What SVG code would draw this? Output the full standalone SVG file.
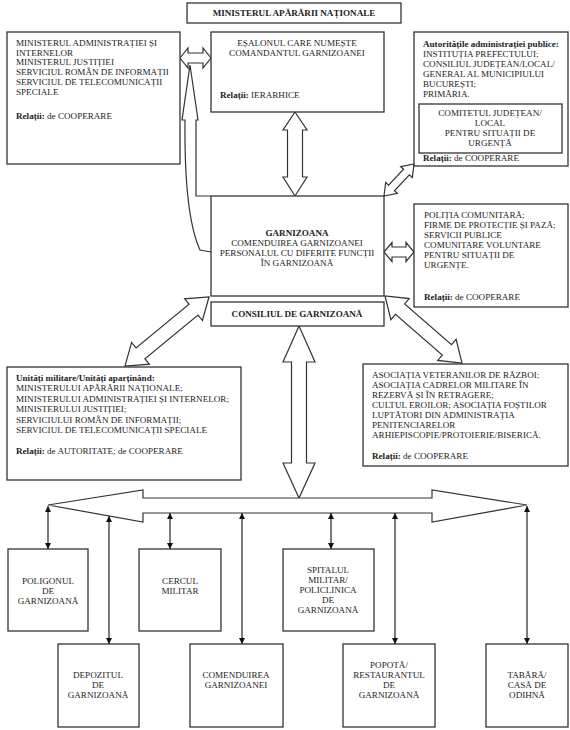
<svg xmlns="http://www.w3.org/2000/svg" width="570" height="730" viewBox="0 0 570 730">
<style>
.b{fill:#fff;stroke:#333;stroke-width:1.3}
.a{fill:#fff;stroke:#333;stroke-width:1.2;stroke-linejoin:miter}
.l{stroke:#222;stroke-width:1.2;fill:none}
text{font-family:"Liberation Serif","Times New Roman",serif;font-size:9.1px;fill:#222}
.c{text-anchor:middle}
.t{font-weight:bold}
</style>
<defs>
<marker id="ah" viewBox="0 0 10 10" refX="10" refY="5" markerWidth="6" markerHeight="8" markerUnits="userSpaceOnUse" orient="auto-start-reverse">
<path d="M0,0 L10,5 L0,10 z" fill="#111"/>
</marker>
</defs>
<rect width="570" height="730" fill="#fff"/>

<g id="connectors">
<polygon class="a" points="180,58 188,48 188,53 203,53 203,48 211,58 203,68 203,63 188,63 188,68"/>
<path class="a" d="M211,196 L196,196 L196,120 L198,120 L190,65 L182,120 L185,120 Q184,215 200,250 L211,252"/>
<polygon class="a" points="295,112 307,130 302.5,130 302.5,177 307,177 295,196 283,177 287.5,177 287.5,130 283,130"/>
<polygon class="a" points="384,252 392,242.5 392,247 406,247 406,242.5 414,252 406,261.5 406,257 392,257 392,261.5"/>
<polygon class="a" points="384,196 397.35,193.45 394.44,190.72 409.40,174.76 412.31,177.49 414,164 400.65,166.55 403.56,169.28 388.60,185.24 385.69,182.51"/>
<polygon class="a" points="209,297 202.43,320.52 197.99,315.11 144.91,358.71 149.35,364.12 125,366 131.57,342.48 136.01,347.89 189.09,304.29 184.65,298.88"/>
<polygon class="a" points="385,296 390.90,319.68 395.49,314.40 442.33,355.16 437.74,360.44 462,363 456.10,339.32 451.51,344.60 404.67,303.84 409.26,298.56"/>
<polygon class="a" points="299,326 315,362 306.5,362 306.5,463 315,463 299,498 283,463 291.5,463 291.5,362 283,362"/>
<polygon class="a" points="48,505 143,490 143,498 432,498 432,490 527,505 432,522 432,513 143,513 143,522"/>
<line class="l" x1="48" y1="506" x2="48" y2="549" marker-start="url(#ah)" marker-end="url(#ah)"/>
<line class="l" x1="109" y1="516" x2="109" y2="644" marker-start="url(#ah)" marker-end="url(#ah)"/>
<line class="l" x1="170" y1="513" x2="170" y2="549" marker-start="url(#ah)" marker-end="url(#ah)"/>
<line class="l" x1="242" y1="513" x2="242" y2="644" marker-start="url(#ah)" marker-end="url(#ah)"/>
<line class="l" x1="331" y1="513" x2="331" y2="549" marker-start="url(#ah)" marker-end="url(#ah)"/>
<line class="l" x1="395" y1="513" x2="395" y2="644" marker-start="url(#ah)" marker-end="url(#ah)"/>
<line class="l" x1="527" y1="506" x2="527" y2="644" marker-start="url(#ah)" marker-end="url(#ah)"/>
</g>

<g id="mapn">
<rect class="b" x="187" y="3" width="214" height="20"/>
<text class="c t" x="294" y="16">MINISTERUL APĂRĂRII NAȚIONALE</text>
</g>

<g id="ministere">
<rect class="b" x="7" y="32" width="173" height="132"/>
<text x="16" y="46">MINISTERUL ADMINISTRAȚIEI ȘI</text>
<text x="16" y="56">INTERNELOR</text>
<text x="16" y="65">MINISTERUL JUSTIȚIEI</text>
<text x="16" y="75">SERVICIUL ROMÂN DE INFORMAȚII</text>
<text x="16" y="85">SERVICIUL DE TELECOMUNICAȚII</text>
<text x="16" y="95">SPECIALE</text>
<text x="16" y="119"><tspan class="t">Relații:</tspan> de COOPERARE</text>
</g>

<g id="esalon">
<rect class="b" x="211" y="32" width="173" height="80"/>
<text class="c" x="297" y="46">EȘALONUL CARE NUMEȘTE</text>
<text class="c" x="297" y="56">COMANDANTUL GARNIZOANEI</text>
<text x="220" y="98"><tspan class="t">Relații:</tspan> IERARHICE</text>
</g>

<g id="autoritati">
<rect class="b" x="414" y="32" width="154" height="134"/>
<text class="t" x="423" y="47">Autoritățile administrației publice:</text>
<text x="423" y="57">INSTITUȚIA PREFECTULUI;</text>
<text x="423" y="67">CONSILIUL JUDEȚEAN/LOCAL/</text>
<text x="423" y="77">GENERAL AL MUNICIPIULUI</text>
<text x="423" y="87">BUCUREȘTI;</text>
<text x="423" y="97">PRIMĂRIA.</text>
<rect class="b" x="419" y="104" width="143" height="49"/>
<text class="c" x="490" y="116">COMITETUL JUDEȚEAN/</text>
<text class="c" x="490" y="126">LOCAL</text>
<text class="c" x="490" y="136">PENTRU SITUAȚII DE</text>
<text class="c" x="490" y="146">URGENȚĂ</text>
<text x="423" y="161"><tspan class="t">Relații:</tspan> de COOPERARE</text>
</g>

<g id="garnizoana">
<rect class="b" x="211" y="196" width="173" height="100"/>
<text class="c t" x="297" y="236">GARNIZOANA</text>
<text class="c" x="297" y="246">COMENDUIREA GARNIZOANEI</text>
<text class="c" x="297" y="256">PERSONALUL CU DIFERITE FUNCȚII</text>
<text class="c" x="297" y="266">ÎN GARNIZOANĂ</text>
</g>

<g id="politia">
<rect class="b" x="414" y="204" width="154" height="103"/>
<text x="424" y="218">POLIȚIA COMUNITARĂ;</text>
<text x="424" y="228">FIRME DE PROTECȚIE ȘI PAZĂ;</text>
<text x="424" y="238">SERVICII PUBLICE</text>
<text x="424" y="248">COMUNITARE VOLUNTARE</text>
<text x="424" y="258">PENTRU SITUAȚII  DE</text>
<text x="424" y="268">URGENȚE.</text>
<text x="424" y="300"><tspan class="t">Relații:</tspan> de COOPERARE</text>
</g>

<g id="consiliul">
<rect class="b" x="211" y="302" width="173" height="24"/>
<text class="c t" x="297" y="317">CONSILIUL DE GARNIZOANĂ</text>
</g>

<g id="unitati">
<rect class="b" x="7" y="367" width="234" height="113"/>
<text class="t" x="16" y="381">Unități militare/Unități aparținând:</text>
<text x="16" y="391">MINISTERULUI APĂRĂRII NAȚIONALE;</text>
<text x="16" y="402">MINISTERULUI ADMINISTRAȚIEI ȘI INTERNELOR;</text>
<text x="16" y="412">MINISTERULUI JUSTIȚIEI;</text>
<text x="16" y="423">SERVICIULUI ROMÂN DE INFORMAȚII;</text>
<text x="16" y="433">SERVICIUL DE TELECOMUNICAȚII SPECIALE</text>
<text x="16" y="454"><tspan class="t">Relații:</tspan> de AUTORITATE; de COOPERARE</text>
</g>

<g id="asociatii">
<rect class="b" x="363" y="364" width="205" height="102"/>
<text x="372" y="378">ASOCIAȚIA VETERANILOR DE RĂZBOI;</text>
<text x="372" y="388">ASOCIAȚIA CADRELOR MILITARE ÎN</text>
<text x="372" y="398">REZERVĂ ȘI ÎN RETRAGERE;</text>
<text x="372" y="408">CULTUL EROILOR; ASOCIAȚIA FOȘTILOR</text>
<text x="372" y="418">LUPTĂTORI DIN ADMINISTRAȚIA</text>
<text x="372" y="428">PENITENCIARELOR</text>
<text x="372" y="438">ARHIEPISCOPIE/PROTOIERIE/BISERICĂ.</text>
<text x="372" y="459"><tspan class="t">Relații:</tspan> de COOPERARE</text>
</g>

<g id="poligon">
<rect class="b" x="8" y="549" width="80" height="82"/>
<text class="c" x="48" y="584">POLIGONUL</text>
<text class="c" x="48" y="594">DE</text>
<text class="c" x="48" y="604">GARNIZOANĂ</text>
</g>
<g id="cerc">
<rect class="b" x="139" y="549" width="82" height="82"/>
<text class="c" x="180" y="584">CERCUL</text>
<text class="c" x="180" y="594">MILITAR</text>
</g>
<g id="spital">
<rect class="b" x="283" y="549" width="91" height="82"/>
<text class="c" x="328" y="573">SPITALUL</text>
<text class="c" x="328" y="583">MILITAR/</text>
<text class="c" x="328" y="593">POLICLINICA</text>
<text class="c" x="328" y="603">DE</text>
<text class="c" x="328" y="613">GARNIZOANĂ</text>
</g>
<g id="depozit">
<rect class="b" x="58" y="644" width="81" height="83"/>
<text class="c" x="98" y="678">DEPOZITUL</text>
<text class="c" x="98" y="688">DE</text>
<text class="c" x="98" y="698">GARNIZOANĂ</text>
</g>
<g id="comenduire">
<rect class="b" x="190" y="644" width="93" height="83"/>
<text class="c" x="236" y="678">COMENDUIREA</text>
<text class="c" x="236" y="688">GARNIZOANEI</text>
</g>
<g id="popota">
<rect class="b" x="343" y="644" width="92" height="83"/>
<text class="c" x="389" y="668">POPOTĂ/</text>
<text class="c" x="389" y="678">RESTAURANTUL</text>
<text class="c" x="389" y="688">DE</text>
<text class="c" x="389" y="698">GARNIZOANĂ</text>
</g>
<g id="tabara">
<rect class="b" x="486" y="644" width="82" height="83"/>
<text class="c" x="527" y="678">TABĂRĂ/</text>
<text class="c" x="527" y="688">CASĂ DE</text>
<text class="c" x="527" y="698">ODIHNĂ</text>
</g>
</svg>
